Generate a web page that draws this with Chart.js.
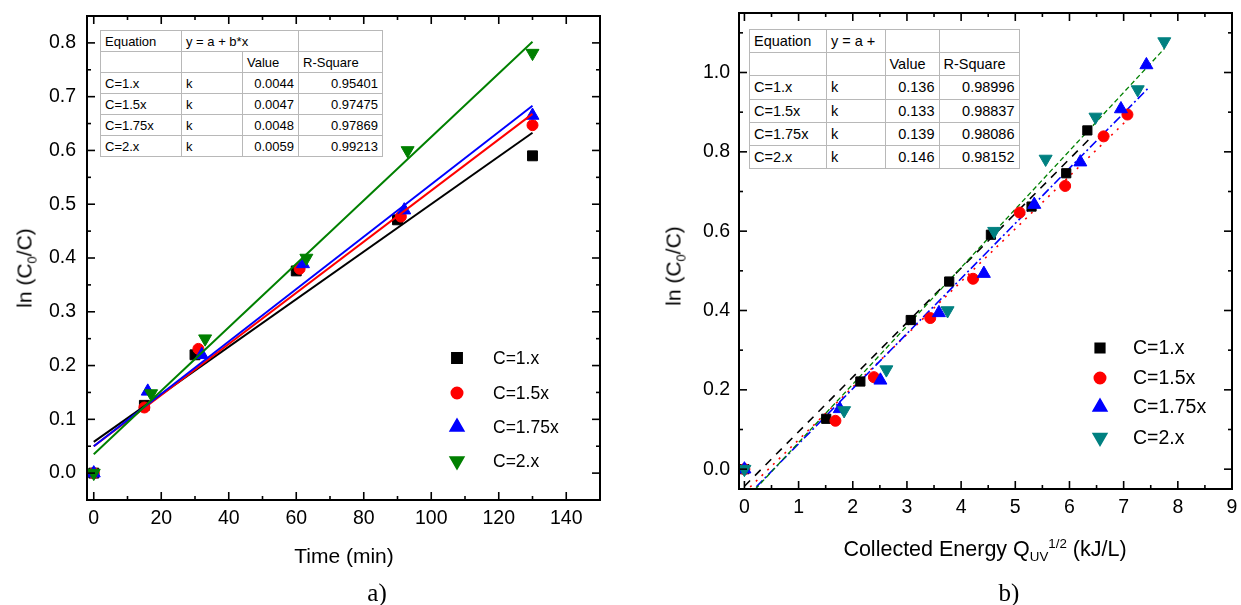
<!DOCTYPE html>
<html>
<head>
<meta charset="utf-8">
<script src="https://cdn.jsdelivr.net/npm/chart.js@4.4.1/dist/chart.umd.min.js"></script>
<style>
  body { margin: 0; background: #fff; width: 1241px; height: 605px; overflow: hidden; position: relative;
         font-family: "Liberation Sans", Arial, sans-serif; color: #000; }
  canvas { position: absolute; top: 0; }
  #chartA { left: 0; }
  #chartB { left: 620px; }
  .lbl { position: absolute; white-space: nowrap; transform: translate(-50%, -50%); font-size: 21px; line-height: 1; }
  .ytitle { transform: translate(-50%, -50%) rotate(-90deg); }
  .cap { font-family: "Liberation Serif", "Times New Roman", serif; font-size: 25px; }
  .sb { font-size: 0.62em; position: relative; top: 0.38em; }
  .sp { font-size: 0.62em; position: relative; top: -0.62em; }
  table.fit { position: absolute; border-collapse: collapse; table-layout: fixed; background: #fff;
              border: 1.5px solid #333; }
  table.fit td { border: 1px solid #b8b8b8; padding: 0 4px; white-space: nowrap; overflow: visible; }
  table.fit td.num { text-align: right; }
</style>
</head>
<body>
<canvas id="chartA" width="620" height="605"></canvas>
<canvas id="chartB" width="621" height="605"></canvas>

<div class="lbl ytitle" style="left:24px; top:268px;">ln (C<span class="sb">0</span>/C)</div>
<div class="lbl" style="left:344px; top:555px;">Time (min)</div>
<div class="lbl cap" style="left:377px; top:592px;">a)</div>

<div class="lbl ytitle" style="left:673px; top:266px;">ln (C<span class="sb">0</span>/C)</div>
<div class="lbl" style="left:985px; top:550px; font-size:21.5px;">Collected Energy Q<span class="sb">UV</span><span class="sp">1/2</span> (kJ/L)</div>
<div class="lbl cap" style="left:1009px; top:592px;">b)</div>

<script>
// Серии и подписи
const seriesNames = ['C=1.x', 'C=1.5x', 'C=1.75x', 'C=2.x'];

// a) ln(C0/C) от времени, мин
const timeC1 = [0, 15, 30, 60, 90, 130];
const lnTimeC1 = [0, 0.126, 0.22, 0.376, 0.471, 0.59];
const timeC15 = [0, 15, 31, 61, 91, 130];
const lnTimeC15 = [0, 0.122, 0.231, 0.38, 0.477, 0.647];
const timeC175 = [0, 16, 32, 62, 92, 130];
const lnTimeC175 = [0, 0.152, 0.22, 0.389, 0.489, 0.665];
const timeC2 = [0, 17, 33, 63, 93, 130];
const lnTimeC2 = [0, 0.148, 0.25, 0.4, 0.6, 0.781];

// a) линии аппроксимации (концы, считаны с рисунка)
const fitTimeX = [0, 130];
const fitTimeC1 = [0.058, 0.633];
const fitTimeC15 = [0.05, 0.668];
const fitTimeC175 = [0.05, 0.683];
const fitTimeC2 = [0.035, 0.802];

// b) ln(C0/C) от собранной энергии Q_UV^1/2, кДж/л
const energyC1 = [0, 1.51, 2.14, 3.07, 3.78, 4.55, 5.30, 5.94, 6.33];
const lnEnergyC1 = [0, 0.127, 0.221, 0.376, 0.473, 0.591, 0.662, 0.746, 0.854];
const energyC15 = [0, 1.68, 2.39, 3.43, 4.22, 5.08, 5.92, 6.63, 7.07];
const lnEnergyC15 = [0, 0.122, 0.232, 0.381, 0.48, 0.647, 0.714, 0.839, 0.894];
const energyC175 = [0, 1.76, 2.51, 3.59, 4.42, 5.35, 6.2, 6.95, 7.42];
const lnEnergyC175 = [0, 0.152, 0.224, 0.394, 0.493, 0.667, 0.774, 0.908, 1.019];
const energyC2 = [0, 1.84, 2.62, 3.75, 4.61, 5.56, 6.48, 7.26, 7.75];
const lnEnergyC2 = [0, 0.148, 0.251, 0.4, 0.6, 0.782, 0.888, 0.957, 1.078];

// b) линии аппроксимации
const fitEnergyC1X = [0, 6.35];
const fitEnergyC1 = [-0.043, 0.83];
const fitEnergyC15X = [0, 7.1];
const fitEnergyC15 = [-0.059, 0.885];
const fitEnergyC175X = [0, 7.45];
const fitEnergyC175 = [-0.075, 0.96];
const fitEnergyC2X = [0, 7.75];
const fitEnergyC2 = [-0.08, 1.06];

// Таблицы с результатами
const kTime = ['0.0044', '0.0047', '0.0048', '0.0059'];
const r2Time = ['0.95401', '0.97475', '0.97869', '0.99213'];
const kEnergy = ['0.136', '0.133', '0.139', '0.146'];
const r2Energy = ['0.98996', '0.98837', '0.98086', '0.98152'];

// Деления осей
const ticksTime = [0, 20, 40, 60, 80, 100, 120, 140];
const ticksLnA = [0, 0.1, 0.2, 0.3, 0.4, 0.5, 0.6, 0.7, 0.8];
const ticksEnergy = [0, 1, 2, 3, 4, 5, 6, 7, 8, 9];
const ticksLnB = [0, 0.2, 0.4, 0.6, 0.8, 1.0];

const FONT = '"Liberation Sans", Arial, sans-serif';
Chart.defaults.font.family = FONT;
Chart.defaults.color = '#000';

const toXY = (xs, ys) => xs.map((x, i) => ({ x, y: ys[i] }));

function minorsOf(ticks, min, max) {
  const step = ticks[1] - ticks[0];
  const out = [];
  for (let v = ticks[0] - step / 2; v <= max + 1e-9; v += step) {
    if (v >= min - 1e-9) out.push(v);
  }
  return out;
}

function drawMarker(ctx, style, x, y) {
  Chart.helpers.drawPoint(ctx, {
    pointStyle: style.pointStyle, radius: style.radius,
    rotation: style.rotation || 0, borderWidth: 1
  }, x, y);
}

// Рамка, внутренние деления и легенда
const framePlugin = {
  id: 'frameTicks',
  afterDraw(chart, args, opts) {
    const { ctx, chartArea: a } = chart;
    const xs = chart.scales.x, ys = chart.scales.y;
    ctx.save();
    ctx.strokeStyle = '#000';
    ctx.lineWidth = 1.6;
    const seg = (x1, y1, x2, y2) => { ctx.beginPath(); ctx.moveTo(x1, y1); ctx.lineTo(x2, y2); ctx.stroke(); };
    const tickX = (v, len) => {
      const p = xs.getPixelForValue(v);
      if (p < a.left - 0.5 || p > a.right + 0.5) return;
      seg(p, a.bottom, p, a.bottom - len);
      seg(p, a.top, p, a.top + len);
    };
    const tickY = (v, len) => {
      const p = ys.getPixelForValue(v);
      if (p < a.top - 0.5 || p > a.bottom + 0.5) return;
      seg(a.left, p, a.left + len, p);
      seg(a.right, p, a.right - len, p);
    };
    opts.xMajor.forEach(v => tickX(v, 8));
    opts.xMinor.forEach(v => tickX(v, 4));
    opts.yMajor.forEach(v => tickY(v, 8));
    opts.yMinor.forEach(v => tickY(v, 4));
    ctx.lineWidth = 2;
    ctx.strokeRect(a.left, a.top, a.right - a.left, a.bottom - a.top);

    // легенда
    const lg = opts.legend;
    ctx.font = lg.fontSize + 'px ' + FONT;
    ctx.textBaseline = 'middle';
    ctx.textAlign = 'left';
    lg.styles.forEach((st, i) => {
      ctx.fillStyle = st.color;
      ctx.strokeStyle = st.color;
      drawMarker(ctx, st, lg.markerX, lg.rows[i]);
      ctx.fillStyle = '#000';
      ctx.fillText(seriesNames[i], lg.textX, lg.rows[i] + 1);
    });
    ctx.restore();
  }
};

function markerSet(label, data, st, order) {
  return {
    label, data, showLine: false, order,
    pointStyle: st.pointStyle, pointRadius: st.radius, pointRotation: st.rotation || 0,
    pointBackgroundColor: st.color, pointBorderColor: st.color, pointBorderWidth: 1
  };
}

function lineSet(data, color, width, dash, order) {
  return {
    label: '', data, showLine: true, order,
    borderColor: color, borderWidth: width, borderDash: dash || [],
    pointRadius: 0, fill: false, tension: 0
  };
}

function axisScales(xMin, xMax, xTicks, yMin, yMax, yTicks, yWidth, xHeight, yPad) {
  return {
    x: {
      type: 'linear', min: xMin, max: xMax,
      grid: { display: false, drawTicks: false }, border: { display: false },
      ticks: { font: { size: 19.5 }, color: '#000', padding: 7, maxRotation: 0, autoSkip: false,
               callback: v => String(v) },
      afterBuildTicks: s => { s.ticks = xTicks.map(v => ({ value: v })); },
      afterFit: s => { s.height = xHeight; s.paddingLeft = 0; s.paddingRight = 0; }
    },
    y: {
      type: 'linear', min: yMin, max: yMax,
      grid: { display: false, drawTicks: false }, border: { display: false },
      ticks: { font: { size: 19.5 }, color: '#000', padding: yPad, autoSkip: false,
               callback: v => Number(v).toFixed(1) },
      afterBuildTicks: s => { s.ticks = yTicks.map(v => ({ value: v })); },
      afterFit: s => { s.width = yWidth; s.paddingTop = 0; s.paddingBottom = 0; }
    }
  };
}

// Стили маркеров
const stylesA = [
  { color: '#000000', pointStyle: 'rect', radius: 7 },
  { color: '#ff0000', pointStyle: 'circle', radius: 5.5 },
  { color: '#0000ff', pointStyle: 'triangle', radius: 7.5 },
  { color: '#008000', pointStyle: 'triangle', radius: 7.5, rotation: 180 }
];
const stylesB = [
  { color: '#000000', pointStyle: 'rect', radius: 6.5 },
  { color: '#ff0000', pointStyle: 'circle', radius: 5.5 },
  { color: '#0000ff', pointStyle: 'triangle', radius: 7.5 },
  { color: '#008080', pointStyle: 'triangle', radius: 7.5, rotation: 180 }
];

// График a)
new Chart(document.getElementById('chartA'), {
  type: 'scatter',
  data: {
    datasets: [
      lineSet(toXY(fitTimeX, fitTimeC1), '#000000', 2, null, 4),
      lineSet(toXY(fitTimeX, fitTimeC15), '#ff0000', 2, null, 3),
      lineSet(toXY(fitTimeX, fitTimeC175), '#0000ff', 2, null, 2),
      lineSet(toXY(fitTimeX, fitTimeC2), '#008000', 2, null, 1),
      markerSet(seriesNames[0], toXY(timeC1, lnTimeC1), stylesA[0], 8),
      markerSet(seriesNames[1], toXY(timeC15, lnTimeC15), stylesA[1], 7),
      markerSet(seriesNames[2], toXY(timeC175, lnTimeC175), stylesA[2], 6),
      markerSet(seriesNames[3], toXY(timeC2, lnTimeC2), stylesA[3], 5)
    ]
  },
  options: {
    responsive: false,
    animation: false,
    layout: { padding: { left: 0, right: 20, top: 16, bottom: 0 } },
    scales: axisScales(-2, 150, ticksTime, -0.05, 0.85, ticksLnA, 87, 105, 11),
    plugins: {
      legend: { display: false },
      tooltip: { enabled: false },
      frameTicks: {
        xMajor: ticksTime, xMinor: minorsOf(ticksTime, -2, 150),
        yMajor: ticksLnA, yMinor: minorsOf(ticksLnA, -0.05, 0.85),
        legend: { markerX: 457, textX: 493, rows: [358, 393, 427, 461], fontSize: 17.5, styles: stylesA }
      }
    }
  },
  plugins: [framePlugin]
});

// График b)
new Chart(document.getElementById('chartB'), {
  type: 'scatter',
  data: {
    datasets: [
      markerSet(seriesNames[0], toXY(energyC1, lnEnergyC1), stylesB[0], 4),
      markerSet(seriesNames[1], toXY(energyC15, lnEnergyC15), stylesB[1], 3),
      markerSet(seriesNames[2], toXY(energyC175, lnEnergyC175), stylesB[2], 2),
      markerSet(seriesNames[3], toXY(energyC2, lnEnergyC2), stylesB[3], 1),
      lineSet(toXY(fitEnergyC1X, fitEnergyC1), '#000000', 1.6, [8, 7], 8),
      lineSet(toXY(fitEnergyC15X, fitEnergyC15), '#ff0000', 1.6, [2, 6], 7),
      lineSet(toXY(fitEnergyC175X, fitEnergyC175), '#0000ff', 1.6, [9, 3, 2, 3], 6),
      lineSet(toXY(fitEnergyC2X, fitEnergyC2), '#008000', 1.3, [5, 3], 5)
    ]
  },
  options: {
    responsive: false,
    animation: false,
    layout: { padding: { left: 0, right: 9, top: 13, bottom: 0 } },
    scales: axisScales(-0.1, 9, ticksEnergy, -0.05, 1.15, ticksLnB, 119, 116, 9),
    plugins: {
      legend: { display: false },
      tooltip: { enabled: false },
      frameTicks: {
        xMajor: ticksEnergy, xMinor: minorsOf(ticksEnergy, -0.1, 9),
        yMajor: ticksLnB, yMinor: minorsOf(ticksLnB, -0.05, 1.15),
        legend: { markerX: 480, textX: 513, rows: [348, 378, 407, 437.5], fontSize: 19.5, styles: stylesB }
      }
    }
  },
  plugins: [framePlugin]
});

// Таблицы аппроксимации
function buildTable(opts) {
  const t = document.createElement('table');
  t.className = 'fit';
  t.style.left = opts.left + 'px';
  t.style.top = opts.top + 'px';
  t.style.width = opts.cols.reduce((s, c) => s + c, 0) + 'px';
  t.style.fontSize = opts.fontSize + 'px';
  const cg = document.createElement('colgroup');
  opts.cols.forEach(w => { const c = document.createElement('col'); c.style.width = w + 'px'; cg.appendChild(c); });
  t.appendChild(cg);
  const rows = [];
  rows.push(opts.spanHeader
    ? [['Equation'], [opts.equation, '', 2], ['']]
    : [['Equation'], [opts.equation], [''], ['']]);
  rows.push([[''], [''], ['Value'], ['R-Square']]);
  seriesNames.forEach((n, i) => rows.push([[n], ['k'], [opts.k[i], 'num'], [opts.r2[i], 'num']]));
  rows.forEach(r => {
    const tr = document.createElement('tr');
    tr.style.height = opts.rowH + 'px';
    r.forEach(([txt, cls, span]) => {
      const td = document.createElement('td');
      td.textContent = txt;
      if (cls) td.className = cls;
      if (span) td.colSpan = span;
      tr.appendChild(td);
    });
    t.appendChild(tr);
  });
  document.body.appendChild(t);
}

buildTable({ left: 100, top: 30, cols: [81, 61, 56, 84], rowH: 21, fontSize: 13,
             equation: 'y = a + b*x', spanHeader: true, k: kTime, r2: r2Time });
buildTable({ left: 749, top: 29, cols: [77, 58.5, 54, 80], rowH: 23.2, fontSize: 14.5,
             equation: 'y = a +', spanHeader: false, k: kEnergy, r2: r2Energy });
</script>
</body>
</html>
